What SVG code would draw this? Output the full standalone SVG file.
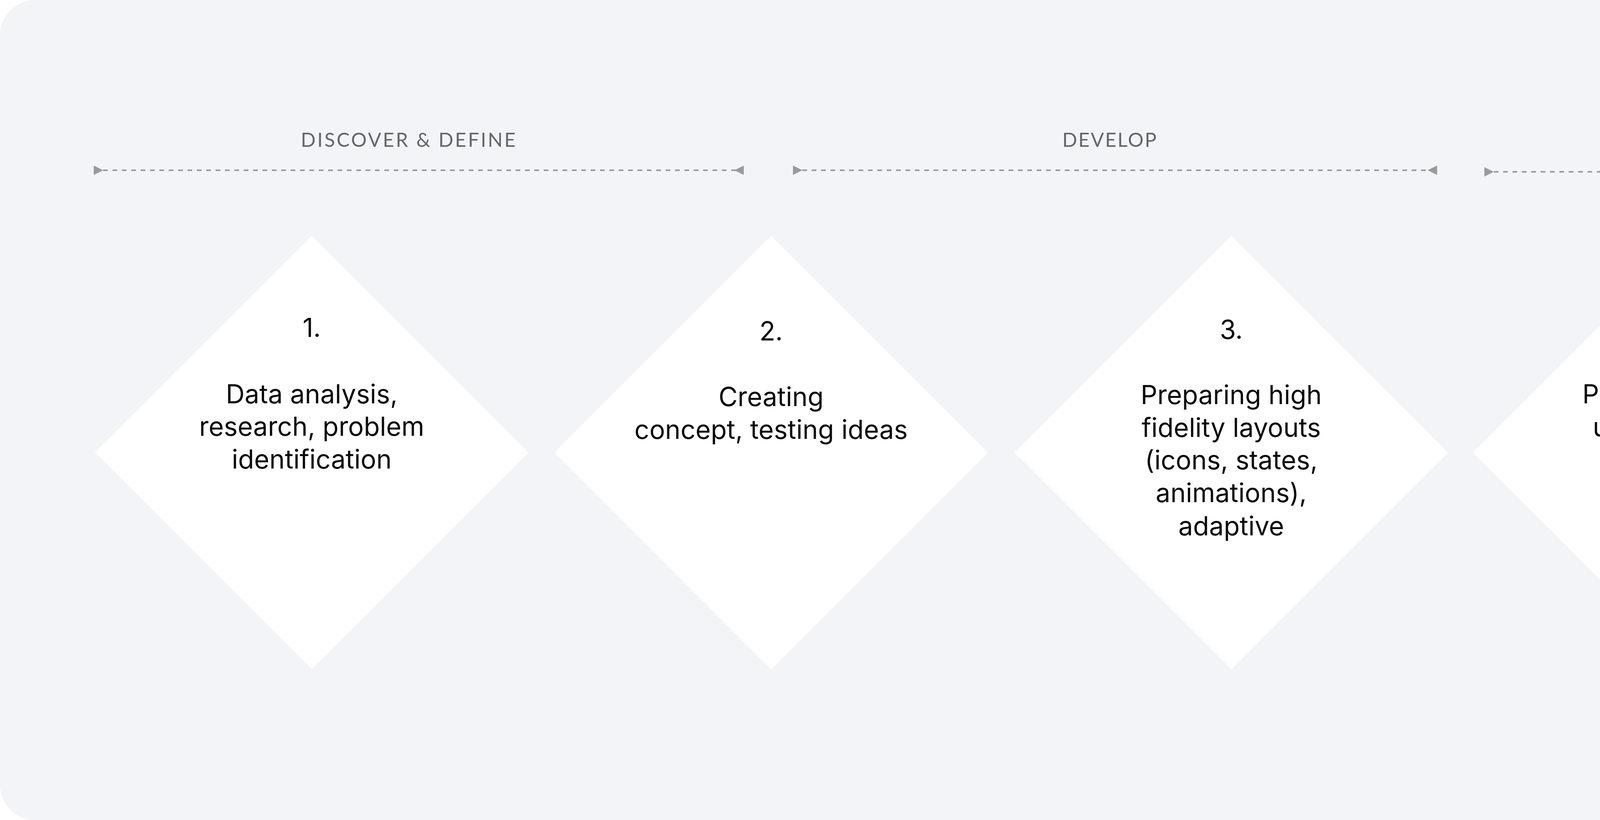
<svg xmlns="http://www.w3.org/2000/svg" width="5120" height="2100" viewBox="0 0 5120 2100">
<style>
.bg{fill:#f3f4f8}
.dia{fill:#ffffff}
.phase{font-family:"Lato","Liberation Sans",sans-serif;font-size:50px;fill:#666666;text-anchor:middle;letter-spacing:6px}
.body{font-family:Inter,"Liberation Sans",sans-serif;font-size:67px;fill:#0a0a0a;text-anchor:middle}
.span{stroke:#9a9a9a;stroke-width:4;stroke-dasharray:12 12;fill:none}
</style>
<defs>
<marker id="tri" markerUnits="userSpaceOnUse" markerWidth="24" markerHeight="24" refX="22" refY="11" orient="auto-start-reverse" viewBox="0 0 22 22">
<path d="M22,0 L22,22 L0,11 z" fill="#9a9a9a"/>
</marker>
</defs>
<rect class="bg" x="0" y="0" width="5120" height="2100" rx="90" ry="90"/>

<g id="phase-labels">
<text class="phase" x="1048" y="376" textLength="556" lengthAdjust="spacing">DISCOVER &amp; DEFINE</text>
<text class="phase" x="2843" y="376" textLength="247" lengthAdjust="spacing">DEVELOP</text>
<text class="phase" x="4333" y="376" textLength="219" lengthAdjust="spacing">DELIVER</text>
</g>

<g id="connectors">
<line class="span" x1="240" y1="436" x2="1904" y2="436" marker-start="url(#tri)" marker-end="url(#tri)"/>
<line class="span" x1="2030" y1="436" x2="3679" y2="436" marker-start="url(#tri)" marker-end="url(#tri)"/>
<line class="span" x1="3800" y1="440" x2="4883" y2="440" marker-start="url(#tri)" marker-end="url(#tri)"/>
</g>

<g id="step1">
<polygon class="dia" points="798,604 1353,1159 798,1714 243,1159"/>
<text class="body" x="798" y="863">1.</text>
<text class="body" x="798" y="1033">Data analysis,</text>
<text class="body" x="798" y="1116">research, problem</text>
<text class="body" x="798" y="1200">identification</text>
</g>

<g id="step2">
<polygon class="dia" points="1974,604 2529,1159 1974,1714 1419,1159"/>
<text class="body" x="1974" y="872">2.</text>
<text class="body" x="1974" y="1040">Creating</text>
<text class="body" x="1974" y="1124">concept, testing ideas</text>
</g>

<g id="step3">
<polygon class="dia" points="3152,604 3707,1159 3152,1714 2597,1159"/>
<text class="body" x="3152" y="868">3.</text>
<text class="body" x="3152" y="1035">Preparing high</text>
<text class="body" x="3152" y="1119">fidelity layouts</text>
<text class="body" x="3152" y="1202">(icons, states,</text>
<text class="body" x="3152" y="1286">animations),</text>
<text class="body" x="3152" y="1371">adaptive</text>
</g>

<g id="step4">
<polygon class="dia" points="4326,604 4881,1159 4326,1714 3771,1159"/>
<text class="body" x="4326" y="868">4.</text>
<text class="body" x="4326" y="1033">Preparing assets,</text>
<text class="body" x="4326" y="1118">ui-kit, handover</text>
<text class="body" x="4326" y="1201">to developers</text>
</g>
</svg>
